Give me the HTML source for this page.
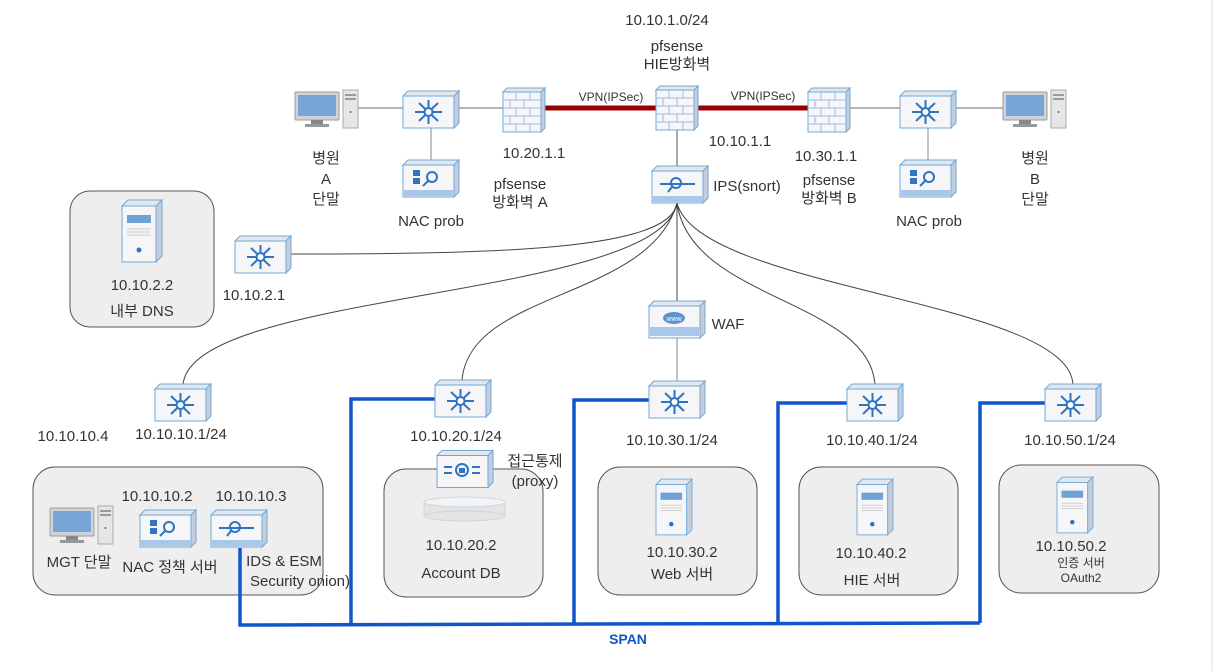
<!DOCTYPE html>
<html><head><meta charset="utf-8"><style>
body{margin:0;background:#fff;}
svg{display:block;font-family:"Liberation Sans","Noto Sans CJK KR",sans-serif;}
text{fill:#333;font-size:15px;}
</style></head><body>
<svg width="1222" height="671" viewBox="0 0 1222 671" xmlns="http://www.w3.org/2000/svg">
<defs>
<symbol id="box" viewBox="0 0 56 37" overflow="visible">
<polygon points="0,5 5,0 56,0 51,5" fill="#e3e7ec" stroke="#6fa8dc"/>
<polygon points="51,5 56,0 56,32 51,37" fill="#c5ced8" stroke="#6fa8dc"/>
<rect x="0" y="5" width="51" height="32" fill="#f6f6f8" stroke="#6fa8dc"/>
</symbol>
<symbol id="sw" viewBox="0 0 56 37" overflow="visible">
<use href="#box" width="56" height="37"/>
<g stroke="#2f74c0" stroke-width="2" fill="none">
<line x1="12" y1="21" x2="39" y2="21"/><line x1="25.5" y1="9" x2="25.5" y2="33"/>
<line x1="16" y1="12" x2="35" y2="30"/><line x1="35" y1="12" x2="16" y2="30"/>
<circle cx="25.5" cy="21" r="4" fill="#fff"/></g>
</symbol>
<symbol id="nac" viewBox="0 0 56 37" overflow="visible">
<use href="#box" width="56" height="37"/>
<rect x="10" y="10" width="7" height="6" fill="#2f74c0"/><rect x="10" y="18" width="7" height="6" fill="#2f74c0"/>
<circle cx="29" cy="17" r="5" stroke="#2f74c0" stroke-width="2" fill="none"/><line x1="25" y1="21" x2="20" y2="26" stroke="#2f74c0" stroke-width="2"/>
<rect x="1" y="30" width="49" height="6" fill="#a9c7e8"/>
</symbol>
<symbol id="ips" viewBox="0 0 56 37" overflow="visible">
<use href="#box" width="56" height="37"/>
<line x1="8" y1="18" x2="43" y2="18" stroke="#2f74c0" stroke-width="2"/>
<circle cx="24" cy="17" r="5" stroke="#2f74c0" stroke-width="2" fill="none"/><line x1="20" y1="21" x2="16" y2="26" stroke="#2f74c0" stroke-width="2"/>
<rect x="1" y="30" width="49" height="6" fill="#a9c7e8"/>
</symbol>
<symbol id="fw" viewBox="0 0 42 44" overflow="visible">
<polygon points="0,4 4,0 42,0 38,4" fill="#e3e7ec" stroke="#6fa8dc"/>
<polygon points="38,4 42,0 42,40 38,44" fill="#c5ced8" stroke="#6fa8dc"/>
<rect x="0" y="4" width="38" height="40" fill="#f6f6f8" stroke="#6fa8dc"/>
<g stroke="#9dbbe0" stroke-width="1"><line x1="0" y1="12" x2="38" y2="12"/><line x1="0" y1="20" x2="38" y2="20"/><line x1="0" y1="28" x2="38" y2="28"/><line x1="0" y1="36" x2="38" y2="36"/>
<line x1="13" y1="4" x2="13" y2="12"/><line x1="27" y1="4" x2="27" y2="12"/><line x1="7" y1="12" x2="7" y2="20"/><line x1="21" y1="12" x2="21" y2="20"/><line x1="13" y1="20" x2="13" y2="28"/><line x1="27" y1="20" x2="27" y2="28"/><line x1="7" y1="28" x2="7" y2="36"/><line x1="21" y1="28" x2="21" y2="36"/><line x1="13" y1="36" x2="13" y2="44"/><line x1="27" y1="36" x2="27" y2="44"/></g>
</symbol>
<symbol id="pc" viewBox="0 0 64 38" overflow="visible">
<rect x="0" y="2" width="44" height="28" rx="1" fill="#d0d4d8" stroke="#999"/>
<rect x="3" y="5" width="38" height="21" fill="#77a6d6"/>
<rect x="16" y="30" width="12" height="4" fill="#888"/><rect x="10" y="34" width="24" height="3" fill="#999"/>
<rect x="48" y="0" width="15" height="38" fill="#e6e6e6" stroke="#aaa"/>
<rect x="50" y="4" width="11" height="2" fill="#999"/><rect x="50" y="8" width="11" height="2" fill="#999"/><circle cx="55.5" cy="22" r="1" fill="#2f74c0"/>
</symbol>
<symbol id="srv" viewBox="0 0 40 62" overflow="visible">
<polygon points="0,6 6,0 40,0 34,6" fill="#e3e7ec" stroke="#6fa8dc"/>
<polygon points="34,6 40,0 40,56 34,62" fill="#c5ced8" stroke="#6fa8dc"/>
<rect x="0" y="6" width="34" height="56" fill="#f6f6f8" stroke="#6fa8dc"/>
<rect x="5" y="15" width="24" height="8" fill="#6fa2d6"/>
<g stroke="#ccc"><line x1="5" y1="29" x2="29" y2="29"/><line x1="5" y1="32" x2="29" y2="32"/><line x1="5" y1="35" x2="29" y2="35"/></g>
<circle cx="17" cy="50" r="2.5" fill="#2f74c0"/>
</symbol>
</defs>

<line x1="1212" y1="0" x2="1212" y2="671" stroke="#ddd"/>

<!-- top gray line -->
<line x1="358" y1="108" x2="1003" y2="108" stroke="#888" stroke-width="1.2"/>
<line x1="431" y1="128" x2="431" y2="160" stroke="#888"/>
<line x1="928" y1="128" x2="928" y2="160" stroke="#888"/>
<line x1="677" y1="130" x2="677" y2="166" stroke="#555"/>
<line x1="545" y1="108" x2="657" y2="108" stroke="#990000" stroke-width="5"/>
<line x1="697" y1="108" x2="808" y2="108" stroke="#990000" stroke-width="5"/>

<!-- curves -->
<g fill="none" stroke="#444" stroke-width="1">
<path d="M677,203 C670,250 500,254 291,254"/>
<path d="M677,203 C660,300 190,290 183,385"/>
<path d="M677,203 C650,300 470,290 462,380"/>
<path d="M677,203 L677,302"/>
<path d="M677,203 C690,300 870,300 875,385"/>
<path d="M677,203 C700,290 1070,300 1073,385"/>
<line x1="677" y1="338" x2="677" y2="382" stroke="#888"/>
</g>

<!-- group boxes -->
<g fill="#eeeeee" stroke="#555" stroke-width="1">
<rect x="70" y="191" width="144" height="136" rx="20"/>
<rect x="33" y="467" width="290" height="128" rx="22"/>
<rect x="384" y="469" width="159" height="128" rx="22"/>
<rect x="598" y="467" width="159" height="128" rx="22"/>
<rect x="799" y="467" width="159" height="128" rx="22"/>
<rect x="999" y="465" width="160" height="128" rx="22"/>
</g>

<!-- SPAN -->
<g fill="none" stroke="#1155cc" stroke-width="3.5">
<path d="M240,548 L240,625 L980,623"/>
<path d="M435,399 L351,399 L351,625"/>
<path d="M649,400 L574,400 L574,625"/>
<path d="M847,403 L778,403 L778,623"/>
<path d="M1045,403 L980,403 L980,623"/>
</g>
<text x="628" y="644" text-anchor="middle" style="font-weight:bold;fill:#1155cc;font-size:14px">SPAN</text>

<!-- icons -->
<use href="#pc" x="295" y="90" width="64" height="38"/>
<use href="#pc" x="1003" y="90" width="64" height="38"/>
<use href="#pc" x="50" y="506" width="64" height="38"/>
<use href="#sw" x="403" y="91" width="56" height="37"/>
<use href="#sw" x="900" y="91" width="56" height="37"/>
<use href="#nac" x="403" y="160" width="56" height="37"/>
<use href="#nac" x="900" y="160" width="56" height="37"/>
<use href="#nac" x="140" y="510" width="56" height="37"/>
<use href="#ips" x="211" y="510" width="56" height="37"/>
<use href="#fw" x="503" y="88" width="42" height="44"/>
<use href="#fw" x="656" y="86" width="42" height="44"/>
<use href="#fw" x="808" y="88" width="42" height="44"/>
<use href="#ips" x="650" y="166" width="60" height="37"/>
<use href="#sw" x="235" y="236" width="56" height="37"/>
<use href="#sw" x="155" y="384" width="56" height="37"/>
<use href="#sw" x="435" y="380" width="56" height="37"/>
<use href="#sw" x="649" y="381" width="56" height="37"/>
<use href="#sw" x="847" y="384" width="56" height="37"/>
<use href="#sw" x="1045" y="384" width="56" height="37"/>
<use href="#srv" x="122" y="200" width="40" height="62"/>
<use href="#srv" x="656" y="475" width="36" height="64"/>
<use href="#srv" x="857" y="475" width="36" height="64"/>
<use href="#srv" x="1057" y="473" width="36" height="64"/>

<!-- WAF -->
<use href="#box" x="649" y="301" width="56" height="37"/>
<ellipse cx="674" cy="318" rx="11" ry="6" fill="#5b93d0"/>
<text x="674" y="321" text-anchor="middle" style="font-size:7px;fill:#fff">www</text>
<rect x="650" y="327" width="49" height="9" fill="#a9c7e8"/>

<!-- proxy -->
<use href="#box" x="437" y="450" width="56" height="38"/>
<circle cx="462" cy="470" r="6" fill="none" stroke="#2f74c0" stroke-width="2"/>
<rect x="459" y="468" width="6" height="5" fill="#2f74c0"/>
<line x1="444" y1="467" x2="452" y2="467" stroke="#2f74c0" stroke-width="2"/><line x1="444" y1="473" x2="452" y2="473" stroke="#2f74c0" stroke-width="2"/>
<line x1="472" y1="467" x2="480" y2="467" stroke="#2f74c0" stroke-width="2"/><line x1="472" y1="473" x2="480" y2="473" stroke="#2f74c0" stroke-width="2"/>

<!-- DB -->
<rect x="424" y="502" width="81" height="14" fill="#e4e4e4" stroke="#c9d6e4"/>
<ellipse cx="464.5" cy="502" rx="40.5" ry="5" fill="#f3f3f3" stroke="#c9d6e4"/>
<ellipse cx="464.5" cy="516" rx="40.5" ry="5" fill="#e4e4e4" stroke="#c9d6e4"/>

<!-- labels -->
<text x="667" y="25" text-anchor="middle">10.10.1.0/24</text>
<text x="677" y="51" text-anchor="middle">pfsense</text>
<text x="677" y="69" text-anchor="middle">HIE방화벽</text>
<text x="611" y="101" text-anchor="middle" style="font-size:12px">VPN(IPSec)</text>
<text x="763" y="100" text-anchor="middle" style="font-size:12px">VPN(IPSec)</text>
<text x="534" y="158" text-anchor="middle">10.20.1.1</text>
<text x="740" y="146" text-anchor="middle">10.10.1.1</text>
<text x="826" y="161" text-anchor="middle">10.30.1.1</text>
<text x="326" y="163" text-anchor="middle">병원</text>
<text x="326" y="184" text-anchor="middle">A</text>
<text x="326" y="204" text-anchor="middle">단말</text>
<text x="1035" y="163" text-anchor="middle">병원</text>
<text x="1035" y="184" text-anchor="middle">B</text>
<text x="1035" y="204" text-anchor="middle">단말</text>
<text x="520" y="189" text-anchor="middle">pfsense</text>
<text x="520" y="207" text-anchor="middle">방화벽 A</text>
<text x="829" y="185" text-anchor="middle">pfsense</text>
<text x="829" y="203" text-anchor="middle">방화벽 B</text>
<text x="431" y="226" text-anchor="middle">NAC prob</text>
<text x="929" y="226" text-anchor="middle">NAC prob</text>
<text x="747" y="191" text-anchor="middle">IPS(snort)</text>
<text x="142" y="290" text-anchor="middle">10.10.2.2</text>
<text x="142" y="316" text-anchor="middle">내부 DNS</text>
<text x="254" y="300" text-anchor="middle">10.10.2.1</text>
<text x="728" y="329" text-anchor="middle">WAF</text>
<text x="73" y="441" text-anchor="middle">10.10.10.4</text>
<text x="181" y="439" text-anchor="middle">10.10.10.1/24</text>
<text x="456" y="441" text-anchor="middle">10.10.20.1/24</text>
<text x="672" y="445" text-anchor="middle">10.10.30.1/24</text>
<text x="872" y="445" text-anchor="middle">10.10.40.1/24</text>
<text x="1070" y="445" text-anchor="middle">10.10.50.1/24</text>
<text x="535" y="466" text-anchor="middle">접근통제</text>
<text x="535" y="486" text-anchor="middle">(proxy)</text>
<text x="157" y="501" text-anchor="middle">10.10.10.2</text>
<text x="251" y="501" text-anchor="middle">10.10.10.3</text>
<text x="79" y="567" text-anchor="middle">MGT 단말</text>
<text x="170" y="572" text-anchor="middle">NAC 정책 서버</text>
<text x="284" y="566" text-anchor="middle">IDS &amp; ESM</text>
<text x="300" y="586" text-anchor="middle">Security onion)</text>
<text x="461" y="550" text-anchor="middle">10.10.20.2</text>
<text x="461" y="578" text-anchor="middle">Account DB</text>
<text x="682" y="557" text-anchor="middle">10.10.30.2</text>
<text x="682" y="579" text-anchor="middle">Web 서버</text>
<text x="871" y="558" text-anchor="middle">10.10.40.2</text>
<text x="872" y="585" text-anchor="middle">HIE 서버</text>
<text x="1071" y="551" text-anchor="middle">10.10.50.2</text>
<text x="1081" y="567" text-anchor="middle" style="font-size:12px">인증 서버</text>
<text x="1081" y="582" text-anchor="middle" style="font-size:12px">OAuth2</text>
</svg>
</body></html>
